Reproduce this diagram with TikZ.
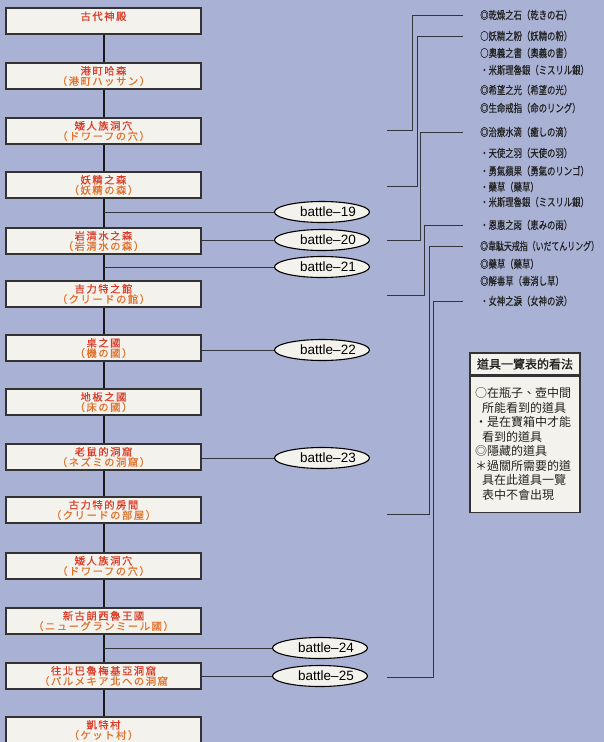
\documentclass[tikz,border=0pt]{standalone}
\usepackage{fontspec}
\setsansfont{Liberation Sans}
\newfontfamily\cjkbox{Noto Sans CJK TC}[LetterSpace=15,FakeBold=0.5]
\newfontfamily\cjkitem{Noto Sans CJK TC}[FakeStretch=0.76,FakeBold=0.4]
\newfontfamily\cjkitemn{Noto Sans CJK TC}[FakeStretch=0.72,FakeBold=0.4]
\newfontfamily\cjkleg{Noto Sans CJK TC}
\newfontfamily\cjklegb{Noto Sans CJK TC}[FakeBold=1.2]
\usetikzlibrary{shapes.geometric}
\definecolor{bg}{HTML}{A9B2D4}
\definecolor{boxfill}{HTML}{F4F2EC}
\definecolor{boxline}{HTML}{333333}
\definecolor{redA}{HTML}{DA3A26}
\definecolor{redB}{HTML}{E0702A}
\definecolor{ink}{HTML}{222222}
\definecolor{lineC}{HTML}{34343C}
\begin{document}
\begin{tikzpicture}[x=1pt,y=-1pt,
  stage/.style={draw=boxline, fill=boxfill, line width=1.3pt, minimum width=195pt, minimum height=26pt, inner sep=0pt, align=center, text=redA, font=\cjkbox\fontsize{10.3}{10.3}\selectfont},
  battle/.style={ellipse, draw=black, fill=boxfill, line width=1.1pt, minimum width=95pt, minimum height=21pt, inner xsep=-8pt, inner ysep=0pt, font=\sffamily\fontsize{13.5}{14}\selectfont, text=black},
  item/.style={anchor=west, inner sep=0pt, text=ink, font=\cjkitem\fontsize{11}{12}\selectfont},
  thin/.style={draw=lineC, line width=0.9pt},
  spine/.style={draw=black!90, line width=2pt},
  leg/.style={draw=boxline, fill=boxfill, line width=1.1pt, minimum width=110pt, inner sep=0pt, text=ink}
]
\useasboundingbox (0,0) rectangle (604,742);
\clip (0,0) rectangle (604,742);
\fill[bg] (0,0) rectangle (604,742);

% stage boxes
\node[stage] (b1) at (103.5,21) {古代神殿\\\mbox{}};
\node[stage] (b2) at (103.5,76) {港町哈森\\\textcolor{redB}{（港町ハッサン）}};
\node[stage] (b3) at (103.5,131) {矮人族洞穴\\\textcolor{redB}{（ドワーフの穴）}};
\node[stage] (b4) at (103.5,185) {妖精之森\\\textcolor{redB}{（妖精の森）}};
\node[stage] (b5) at (103.5,241) {岩清水之森\\\textcolor{redB}{（岩清水の森）}};
\node[stage] (b6) at (103.5,294) {吉力特之館\\\textcolor{redB}{（クリードの館）}};
\node[stage] (b7) at (103.5,348) {桌之國\\\textcolor{redB}{（機の國）}};
\node[stage] (b8) at (103.5,402) {地板之國\\\textcolor{redB}{（床の國）}};
\node[stage] (b9) at (103.5,457) {老鼠的洞窟\\\textcolor{redB}{（ネズミの洞窟）}};
\node[stage] (b10) at (103.5,510) {古力特的房間\\\textcolor{redB}{（クリードの部屋）}};
\node[stage] (b11) at (103.5,566) {矮人族洞穴\\\textcolor{redB}{（ドワーフの穴）}};
\node[stage] (b12) at (103.5,621) {新古朗西魯王國\\\textcolor{redB}{（ニューグランミール國）}};
\node[stage] (b13) at (103.5,676) {往北巴魯梅基亞洞窟\\\textcolor{redB}{（パルメキア北への洞窟}};
\node[stage] (b14) at (103.5,730) {凱特村\\\textcolor{redB}{（ケット村）}};

\foreach \a/\b in {1/2,2/3,3/4,4/5,5/6,6/7,7/8,8/9,9/10,10/11,11/12,12/13,13/14}
  \draw[spine] (b\a.south) -- (b\b.north);

% battles
\node[battle] (e19) at (322,212) {\hspace*{12pt}battle–19};
\node[battle] (e20) at (322,240) {\hspace*{12pt}battle–20};
\node[battle] (e21) at (322,267) {\hspace*{12pt}battle–21};
\node[battle] (e22) at (322,350) {\hspace*{12pt}battle–22};
\node[battle] (e23) at (322,458) {\hspace*{12pt}battle–23};
\node[battle] (e24) at (320,648) {\hspace*{12pt}battle–24};
\node[battle] (e25) at (320,676) {\hspace*{12pt}battle–25};

\draw[thin] (b4.south |- e19) -- (e19.west);
\draw[thin] (b5.east |- e20) -- (e20.west);
\draw[thin] (b5.south |- e21) -- (e21.west);
\draw[thin] (b7.east |- e22) -- (e22.west);
\draw[thin] (b9.east |- e23) -- (e23.west);
\draw[thin] (b12.south |- e24) -- (e24.west);
\draw[thin] (b13.east |- e25) -- (e25.west);

% items
\node[item] (i1) at (480,15) {◎乾燥之石（乾きの石）};
\node[item] (i2) at (480,36) {○妖精之粉（妖精の粉）};
\node[item] (i3) at (480,53) {○奧義之書（奧義の書）};
\node[item] (i4) at (480,70) {・米斯理魯銀（ミスリル銀）};
\node[item] (i5) at (480,90) {◎希望之光（希望の光）};
\node[item] (i6) at (480,108) {◎生命戒指（命のリング）};
\node[item] (i7) at (480,132) {◎治療水滴（癒しの滴）};
\node[item] (i8) at (480,153) {・天使之羽（天使の羽）};
\node[item] (i9) at (480,171) {・勇氣蘋果（勇氣のリンゴ）};
\node[item] (i10) at (480,187) {・藥草（藥草）};
\node[item] (i11) at (480,202) {・米斯理魯銀（ミスリル銀）};
\node[item] (i12) at (480,225) {・恩惠之雨（恵みの雨）};
\node[item, font=\cjkitemn\fontsize{11}{12}\selectfont] (i13) at (480,246) {◎韋駄天戒指（いだてんリング）};
\node[item] (i14) at (480,264) {◎藥草（藥草）};
\node[item] (i15) at (480,281) {◎解毒草（毒消し草）};
\node[item] (i16) at (480,301) {・女神之淚（女神の涙）};

% brackets
\coordinate (L1) at (387,130);
\coordinate (L2) at (387,186);
\coordinate (L3) at (387,240);
\coordinate (L4) at (387,295);
\coordinate (L5) at (387,514);
\coordinate (L6) at (387,677);
\draw[thin] (L1) -- ++(25,0) |- ([xshift=-17pt]i1.west);
\draw[thin] (L2) -- ++(30,0) |- ([xshift=-17pt]i2.west);
\draw[thin] (L3) -- ++(33,0) |- ([xshift=-17pt]i7.west);
\draw[thin] (L4) -- ++(37,0) |- ([xshift=-17pt]i12.west);
\draw[thin] (L5) -- ++(42,0) |- ([xshift=-17pt]i13.west);
\draw[thin] (L6) -- ++(46,0) |- ([xshift=-17pt]i16.west);

% legend
\node[leg, minimum height=22pt, font=\cjklegb\fontsize{12}{14}\selectfont] (legh) at (525,364) {道具一覽表的看法};
\node[leg, anchor=north, minimum height=136pt, align=left, inner xsep=5pt, text width=100pt, font=\cjkleg\fontsize{12}{14.5}\selectfont] (legb) at (legh.south) {○在瓶子、壺中間\\
\hspace*{0.6em}所能看到的道具\\
・是在寶箱中才能\\
\hspace*{0.6em}看到的道具\\
◎隱藏的道具\\
＊過關所需要的道\\
\hspace*{0.6em}具在此道具一覽\\
\hspace*{0.6em}表中不會出現};
\end{tikzpicture}
\end{document}
